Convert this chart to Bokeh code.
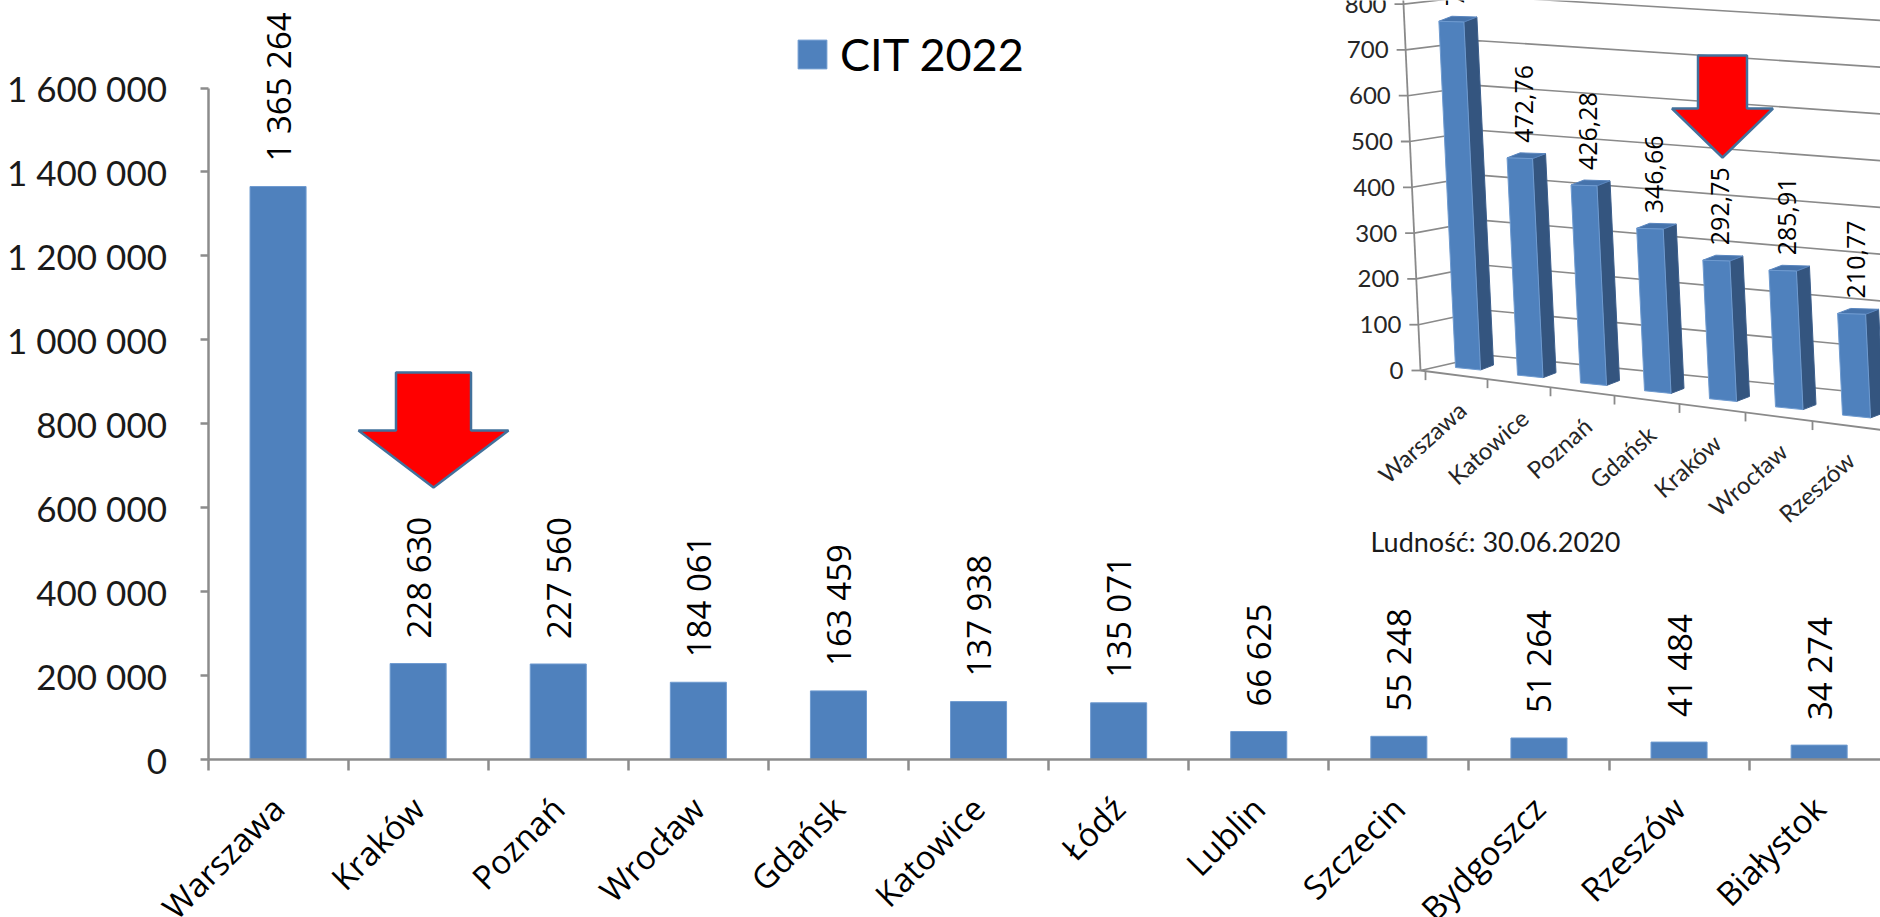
import math
from bokeh.plotting import figure
from bokeh.models import (Range1d, FixedTicker, Legend, LegendItem, ColumnDataSource)
from bokeh.embed import file_html
from bokeh.resources import INLINE
from bokeh.core.properties import value

# ---------------- data: main chart (CIT 2022) ----------------
cities = ["Warszawa", "Kraków", "Poznań", "Wrocław", "Gdańsk", "Katowice",
          "Łódź", "Lublin", "Szczecin", "Bydgoszcz", "Rzeszów", "Białystok"]
cit_2022 = [1365264, 228630, 227560, 184061, 163459, 137938,
            135071, 66625, 55248, 51264, 41484, 34274]
y_ticks = [0, 200000, 400000, 600000, 800000, 1000000, 1200000, 1400000, 1600000]
y_tick_labels = ["0", "200 000", "400 000", "600 000", "800 000",
                 "1 000 000", "1 200 000", "1 400 000", "1 600 000"]
legend_label = "CIT 2022"

# ---------------- data: inset chart (CIT per inhabitant) ----------------
inset_cities = ["Warszawa", "Katowice", "Poznań", "Gdańsk", "Kraków", "Wrocław", "Rzeszów"]
inset_values = [760.94, 472.76, 426.28, 346.66, 292.75, 285.91, 210.77]
inset_ticks = [0, 100, 200, 300, 400, 500, 600, 700, 800]
inset_tick_labels = ["0", "100", "200", "300", "400", "500", "600", "700", "800"]
inset_note = "Ludność: 30.06.2020"


def pl_int(n):
    return f"{n:,}".replace(",", " ")


def pl_dec(v):
    return f"{v:.2f}".replace(".", ",")


# ---------------- layout constants (pixels) ----------------
FIG_W, FIG_H = 1880, 917
AXIS_X_PX = 207.5                 # x (from left) of the value axis
CAT_PX = 140.1                    # width of one category in px
ZERO_PX, TOP_PX = 759.0, 87.5     # y (from top) of 0 and of 1 600 000
K = (ZERO_PX - TOP_PX) / 1600000  # px per unit
y_start = -(FIG_H - ZERO_PX) / K
y_end = ZERO_PX / K
x_start = -AXIS_X_PX / CAT_PX
x_end = (FIG_W - AXIS_X_PX) / CAT_PX

BAR_BLUE = "#4f81bd"
AXIS_GREY = "#8c8c8c"

p = figure(width=FIG_W, height=FIG_H, output_backend="svg", toolbar_location=None,
           x_range=Range1d(x_start, x_end), y_range=Range1d(y_start, y_end),
           min_border_left=0, min_border_right=0, min_border_top=0,
           min_border_bottom=0, outline_line_color=None,
           background_fill_color="white", border_fill_color="white")
p.xgrid.visible = False
p.ygrid.visible = False

# pixel ranges for the pasted inset / decorations
p.extra_x_ranges = {"px": Range1d(0, FIG_W)}
p.extra_y_ranges = {"py": Range1d(FIG_H, 0)}

# ---------------- main axes ----------------
centers = [i + 0.5 for i in range(len(cities))]
xa = p.xaxis[0]
xa.fixed_location = 0
xa.ticker = FixedTicker(ticks=centers, minor_ticks=list(range(len(cities) + 1)))
xa.major_label_overrides = {c: name for c, name in zip(centers, cities)}
xa.major_label_orientation = math.pi / 4
xa.major_tick_out = 0
xa.major_tick_in = 0
xa.minor_tick_out = 11
xa.minor_tick_in = 0
xa.minor_tick_line_color = AXIS_GREY
xa.minor_tick_line_width = 2.5
xa.axis_line_color = AXIS_GREY
xa.axis_line_width = 2.5
xa.bounds = (0, len(cities))
xa.major_label_text_font = "Open Sans"
xa.major_label_text_font_size = "33px"
xa.major_label_text_color = "#000000"
xa.major_label_standoff = 32

ya = p.yaxis[0]
ya.fixed_location = 0
ya.ticker = FixedTicker(ticks=y_ticks, minor_ticks=[])
ya.major_label_overrides = {t: s for t, s in zip(y_ticks, y_tick_labels)}
ya.bounds = (0, y_ticks[-1])
ya.major_tick_out = 8
ya.major_tick_in = 0
ya.major_tick_line_color = AXIS_GREY
ya.major_tick_line_width = 2.5
ya.minor_tick_line_color = None
ya.axis_line_color = AXIS_GREY
ya.axis_line_width = 2.5
ya.major_label_text_font = "Lato"
ya.major_label_text_font_size = "35px"
ya.major_label_text_color = "#1a1a1a"
ya.major_label_standoff = 33

# ---------------- main bars + labels ----------------
src = ColumnDataSource(dict(x=centers, top=cit_2022, label=[pl_int(v) for v in cit_2022]))
bars = p.vbar(x="x", top="top", width=0.4, source=src,
              fill_color=BAR_BLUE, line_color="#6f9bd0", line_width=1)
p.text(x="x", y="top", text="label", source=src, angle=math.pi / 2,
       text_align="left", text_baseline="middle", y_offset=-25,
       text_font=value("Open Sans"), text_font_size="33px", text_color="#000000")

legend = Legend(items=[LegendItem(label=legend_label, renderers=[bars])],
                location=(794, 836), orientation="horizontal",
                glyph_width=36, glyph_height=36, label_standoff=10,
                label_text_font="Lato", label_text_font_size="45px",
                label_text_color="#000000", padding=0, margin=0,
                border_line_color=None, background_fill_alpha=0)
p.add_layout(legend)

# ---------------- inset: pseudo-3D column chart ----------------
PXR = dict(x_range_name="px", y_range_name="py")


def xf(v):            # front vertical axis x
    return 1420 - 17 * v / 800


def yf(v):            # front vertical axis y
    return 370 - 0.458 * v


def xb(v):            # back-left corner x
    return 1487 - 10 * v / 800


def yback(v, x):      # back-wall gridline y
    return 366 - 0.454 * v + (0.1 - 0.0000488 * v) * (x - 1600)


def floor_front(x):
    return 370 + 0.129 * (x - 1420)


grid_xs, grid_ys = [], []
for v in inset_ticks:
    grid_xs.append([xf(v), xb(v), 1880])
    grid_ys.append([yf(v), yback(v, xb(v)), yback(v, 1880)])
p.multi_line(grid_xs, grid_ys, line_color="#8a8a8a", line_width=1.6, **PXR)

# front axis + floor front edge + ticks
axis_xs = [[xf(0), xf(820)], [1420, 1880]]
axis_ys = [[yf(0), yf(820)], [370, floor_front(1880)]]
for v in inset_ticks:
    axis_xs.append([xf(v) - 9, xf(v)])
    axis_ys.append([yf(v), yf(v)])

bar_geo = []
for i, v in enumerate(inset_values):
    xbl = 1455 + 61.5 * i + 0.5 * i * i
    w = 25 + 0.5 * i
    ybl = 367 + 0.123 * (xbl - 1455)
    ybr = ybl + 0.1 * w
    h = v * 0.455 * (1 + 0.01 * i)
    lean = 0.048 * h
    xtl, ytl = xbl - lean, ybl - h
    xtr, ytr = xtl + w, ytl + 0.03 * w
    xbr = xbl + w
    bar_geo.append((xbl, ybl, xbr, ybr, xtl, ytl, xtr, ytr))
    bx = xbl - 30
    axis_xs.append([bx, bx])
    axis_ys.append([floor_front(bx), floor_front(bx) + 9])
p.multi_line(axis_xs, axis_ys, line_color="#8a8a8a", line_width=1.8, **PXR)

DX, DY = 13, -5
front_x, front_y, side_x, side_y, top_x, top_y = [], [], [], [], [], []
lab_x, lab_y, cat_x, cat_y = [], [], [], []
for (xbl, ybl, xbr, ybr, xtl, ytl, xtr, ytr) in bar_geo:
    front_x.append([xtl, xtr, xbr, xbl])
    front_y.append([ytl, ytr, ybr, ybl])
    side_x.append([xtr, xtr + DX, xbr + DX, xbr])
    side_y.append([ytr, ytr + DY, ybr + DY, ybr])
    top_x.append([xtl, xtl + DX, xtr + DX, xtr])
    top_y.append([ytl, ytl + DY, ytr + DY, ytr])
    lab_x.append((xtl + xtr) / 2 + 4)
    lab_y.append(ytl - 15)
    cx = (xbl + xbr) / 2 - 6
    cat_x.append(cx)
    cat_y.append(floor_front(cx) + 30)

p.patches(side_x, side_y, fill_color="#34557f", line_color="#3d5f8c", line_width=1, **PXR)
p.patches(top_x, top_y, fill_color="#4673ab", line_color="#5a86bf", line_width=1, **PXR)
p.patches(front_x, front_y, fill_color=BAR_BLUE, line_color="#6f9bd0", line_width=1, **PXR)

p.text(x=lab_x, y=lab_y, text=[pl_dec(v) for v in inset_values], angle=math.pi / 2,
       text_align="left", text_baseline="middle", text_font=value("Open Sans"),
       text_font_size="25px", text_color="#000000", **PXR)
p.text(x=[xf(v) - 17 for v in inset_ticks], y=[yf(v) for v in inset_ticks],
       text=inset_tick_labels, text_align="right", text_baseline="middle",
       text_font=value("Lato"), text_font_size="24px", text_color="#262626", **PXR)
p.text(x=cat_x, y=cat_y, text=inset_cities, angle=math.radians(42),
       text_align="right", text_baseline="middle", text_font=value("Lato"),
       text_font_size="24px", text_color="#262626", **PXR)
p.text(x=[1370], y=[541], text=[inset_note], text_align="left", text_baseline="middle",
       text_font=value("Lato"), text_font_size="27px", text_color="#1a1a1a", **PXR)

# ---------------- red arrows (annotations, px) ----------------
def arrow(tip_x, tip_y, shaft_w, head_w, head_h, total_h):
    top = tip_y - total_h
    neck = tip_y - head_h
    return ([tip_x - shaft_w / 2, tip_x + shaft_w / 2, tip_x + shaft_w / 2, tip_x + head_w / 2,
             tip_x, tip_x - head_w / 2, tip_x - shaft_w / 2],
            [top, top, neck, neck, tip_y, neck, neck])


ax1 = arrow(433, 487, 75, 150, 57, 115)
ax2 = arrow(1722, 157, 49, 101, 49, 102)
p.patches([ax1[0], ax2[0]], [ax1[1], ax2[1]], fill_color="#ff0000",
          line_color="#41719c", line_width=2.5, **PXR)

open("out.html", "w").write(file_html(p, INLINE))
